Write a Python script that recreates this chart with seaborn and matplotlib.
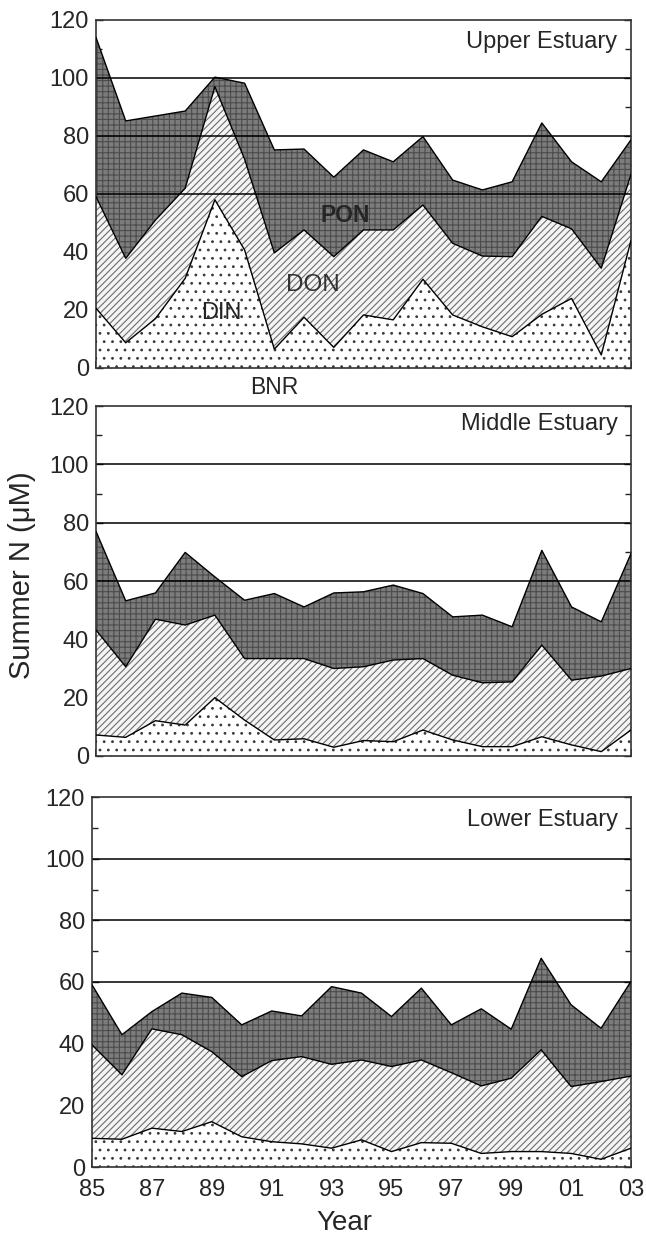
import numpy as np
import pandas as pd
import matplotlib
matplotlib.use("Agg")
import matplotlib.pyplot as plt
import seaborn as sns
from matplotlib.ticker import MultipleLocator

# Summer nitrogen fractions (uM), 1985-2003
years = list(range(1985, 2004))
year_tick_labels = ["85", "", "87", "", "89", "", "91", "", "93", "", "95", "",
                    "97", "", "99", "", "01", "", "03"]

upper_din = [20.6, 8.7, 17.0, 30.9, 58.0, 40.7, 6.5, 17.5, 7.1, 18.3, 16.6, 30.6,
             18.3, 14.2, 10.8, 18.5, 24.0, 4.5, 44.0]
upper_don = [38.5, 29.1, 34.0, 31.1, 39.0, 31.3, 33.2, 30.1, 31.3, 29.3, 31.0, 25.6,
             24.7, 24.4, 27.6, 33.8, 24.0, 29.9, 22.8]
upper_pon = [54.9, 47.4, 35.9, 26.6, 3.3, 26.2, 35.5, 27.9, 27.4, 27.6, 23.5, 23.6,
             21.8, 22.8, 25.8, 32.2, 23.1, 29.8, 11.9]

middle_din = [7.2, 6.4, 12.1, 10.6, 20.0, 12.3, 5.5, 5.9, 3.0, 5.3, 4.9, 8.9,
              5.5, 3.2, 3.2, 6.6, 3.8, 1.5, 8.9]
middle_don = [36.0, 24.2, 34.8, 34.3, 28.3, 21.1, 27.9, 27.5, 27.0, 25.3, 28.0, 24.5,
              22.2, 21.9, 22.2, 31.4, 22.2, 25.9, 21.1]
middle_pon = [33.8, 22.6, 9.0, 24.9, 13.1, 20.0, 22.3, 17.7, 25.9, 25.7, 25.7, 22.3,
              20.0, 23.2, 18.9, 32.5, 25.1, 18.6, 39.4]

lower_din = [9.3, 9.0, 12.6, 11.5, 14.7, 9.8, 8.2, 7.5, 6.1, 8.8, 5.0, 7.9,
             7.7, 4.4, 5.0, 5.0, 4.4, 2.5, 6.1]
lower_don = [30.3, 20.9, 32.2, 31.4, 22.7, 19.5, 26.3, 28.3, 27.2, 25.9, 27.6, 26.8,
             22.9, 21.9, 23.8, 33.0, 21.7, 25.2, 23.4]
lower_pon = [19.5, 13.0, 5.6, 13.5, 17.6, 16.8, 16.1, 13.2, 25.2, 21.7, 16.2, 23.3,
             15.5, 25.0, 15.9, 29.7, 26.5, 17.3, 30.7]

panels = [
    ("Upper Estuary", upper_din, upper_don, upper_pon, 112.4),
    ("Middle Estuary", middle_din, middle_don, middle_pon, 114.0),
    ("Lower Estuary", lower_din, lower_don, lower_pon, 112.5),
]

sns.set_style("ticks")
plt.rcParams["font.family"] = ["Liberation Sans", "DejaVu Sans"]
plt.rcParams["hatch.linewidth"] = 0.8

fig = plt.figure(figsize=(6.46, 12.39), dpi=100)
W, H = 646.0, 1239.0
rects = [
    [96 / W, 1 - 368 / H, 535 / W, 348 / H],
    [96 / W, 1 - 756 / H, 535 / W, 350 / H],
    [92 / W, 1 - 1167 / H, 539 / W, 370 / H],
]

axes = []
for k, (name, din, don, pon, ylab) in enumerate(panels):
    ax = fig.add_axes(rects[k])
    axes.append(ax)
    df = pd.DataFrame({"year": years, "DIN": din, "DON": don, "PON": pon})
    df["c1"] = df["DIN"]
    df["c2"] = df["DIN"] + df["DON"]
    df["c3"] = df["c2"] + df["PON"]

    # stacked areas
    ax.fill_between(df["year"], 0, df["c1"], facecolor="white", hatch="..",
                    edgecolor="#3a3a3a", linewidth=0, zorder=1)
    ax.fill_between(df["year"], df["c1"], df["c2"], facecolor="#f4f4f4", hatch="/////",
                    edgecolor="#6e6e6e", linewidth=0, zorder=1)
    ax.fill_between(df["year"], df["c2"], df["c3"], facecolor="#7c7c7c", hatch="+++",
                    edgecolor="#4c4c4c", linewidth=0, zorder=1)

    for yv in (60, 80, 100):
        ax.axhline(yv, color="black", lw=1.1, zorder=2)

    long = df.melt(id_vars="year", value_vars=["c1", "c2", "c3"],
                   var_name="boundary", value_name="value")
    sns.lineplot(data=long, x="year", y="value", units="boundary", estimator=None,
                 color="black", lw=1.0, ax=ax, legend=False, zorder=3)

    ax.set_xlim(1985, 2003)
    ax.set_ylim(0, 120)
    ax.set_xlabel("")
    ax.set_ylabel("")

    ax.set_yticks(range(0, 121, 20))
    ax.yaxis.set_minor_locator(MultipleLocator(10))
    ax.set_xticks(years)
    ax.xaxis.set_minor_locator(MultipleLocator(0.5))
    ax.tick_params(axis="y", which="both", direction="in", left=True, right=True,
                   labelsize=17, pad=5, width=1.0, color="#222222")
    ax.tick_params(axis="y", which="major", length=5)
    ax.tick_params(axis="y", which="minor", length=4)
    ax.tick_params(axis="x", which="major", direction="in", length=5, width=1.2,
                   labelsize=17, pad=9, top=False, color="#222222")
    ax.tick_params(axis="x", which="minor", direction="in", length=2, width=0.8,
                   top=False)
    if k == 2:
        ax.set_xticklabels(year_tick_labels)
    else:
        ax.tick_params(axis="x", labelbottom=False)

    for sp in ax.spines.values():
        sp.set_visible(True)
        sp.set_color("#333333")
        sp.set_linewidth(1.2)

    ax.text(2002.55, ylab, name, ha="right", va="center", fontsize=17, zorder=5)

# fraction labels in the upper panel
top = axes[0]
top.text(1993.4, 52.5, "PON", ha="center", va="center", fontsize=16.5,
         fontweight="bold", zorder=5)
top.text(1992.3, 28.5, "DON", ha="center", va="center", fontsize=17.5, color="#333333",
         zorder=5)
top.text(1989.2, 19.0, "DIN", ha="center", va="center", fontsize=17, color="#222222",
         zorder=5)
top.text(1991.0, -6.8, "BNR", ha="center", va="center", fontsize=16.5, clip_on=False,
         zorder=5)

fig.text(22 / W, 1 - 575 / H, "Summer N (\u03bcM)", rotation=90, ha="center",
         va="center", fontsize=21)
fig.text(344 / W, 1 - 1223 / H, "Year", ha="center", va="center", fontsize=20)

fig.savefig("out.png", dpi=100)
